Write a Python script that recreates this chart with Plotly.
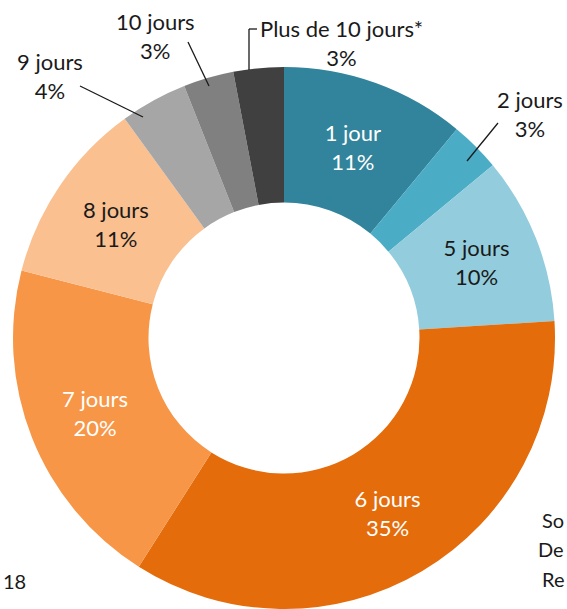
import plotly.graph_objects as go

labels = ["1 jour", "2 jours", "5 jours", "6 jours", "7 jours", "8 jours",
          "9 jours", "10 jours", "Plus de 10 jours*"]
values = [11, 3, 10, 35, 20, 11, 4, 3, 3]
colors = ["#31849B", "#4BACC6", "#93CDDD", "#E46C0A", "#F79646", "#FAC090",
          "#A6A6A6", "#808080", "#404040"]
inside = [True, False, True, True, True, True, False, False, False]
text_colors = ["white", "black", "#1a1a1a", "white", "white", "#1a1a1a",
               "black", "black", "black"]

W, H = 567, 609
CX, CY, R = 284, 338, 271
FONT = "Lato"
FS = 22


def px(x, y):
    return x / W, 1 - y / H


texts = [f"{l}<br>{v}%" for l, v in zip(labels, values)]

x0, y1 = px(CX - R, CY - R)
x1, y0 = px(CX + R, CY + R)
fig = go.Figure(go.Pie(
    labels=labels, values=values, sort=False, direction="clockwise", rotation=0,
    hole=0.5,
    marker=dict(colors=colors, line=dict(width=0)),
    text=texts, texttemplate="%{text}",
    textposition=["inside" if i else "none" for i in inside],
    insidetextorientation="horizontal",
    insidetextfont=dict(color=text_colors, family=FONT, size=FS),
    domain=dict(x=[x0, x1], y=[max(0, y0), y1]),
    showlegend=False, hoverinfo="label+percent",
))

# outside labels (label text centre positions in pixels)
outside = {
    "2 jours": (530, 114),
    "9 jours": (50, 76),
    "10 jours": (155, 36),
    "Plus de 10 jours*": (341, 43),
}
annotations = []
for lab, (x, y) in outside.items():
    v = values[labels.index(lab)]
    ax, ay = px(x, y)
    annotations.append(dict(x=ax, y=ay, xref="paper", yref="paper", showarrow=False,
                            xanchor="center", yanchor="middle",
                            text=f"{lab}<br>{v}%", align="center",
                            font=dict(family=FONT, size=FS, color="#1a1a1a")))

# cropped surrounding text (partially visible in the reference)
for t, (x, y) in {"So": (566, 520), "De": (566, 549), "Re": (566, 579)}.items():
    ax, ay = px(x, y)
    annotations.append(dict(x=ax, y=ay, xref="paper", yref="paper", showarrow=False,
                            xanchor="right", yanchor="middle", text=t,
                            font=dict(family=FONT, size=FS - 2, color="#1a1a1a")))
ax, ay = px(1, 581)
annotations.append(dict(x=ax, y=ay, xref="paper", yref="paper", showarrow=False,
                        xanchor="left", yanchor="middle", text="18",
                        font=dict(family=FONT, size=FS - 2, color="#1a1a1a")))

# leader lines
lines = [
    [(498, 123), (467, 161)],
    [(80, 86), (143, 117)],
    [(188, 42), (209, 86)],
    [(249, 70), (249, 29), (257, 29)],
]
shapes = []
for pts in lines:
    for (xa, ya), (xb, yb) in zip(pts[:-1], pts[1:]):
        a0, b0 = px(xa, ya)
        a1, b1 = px(xb, yb)
        shapes.append(dict(type="line", xref="paper", yref="paper", x0=a0, y0=b0,
                           x1=a1, y1=b1, line=dict(color="#1a1a1a", width=1.3)))

fig.update_layout(width=W, height=H, margin=dict(l=0, r=0, t=0, b=0),
                  paper_bgcolor="white", plot_bgcolor="white",
                  annotations=annotations, shapes=shapes,
                  font=dict(family=FONT, size=FS))
fig.write_html("out.html", config={"displayModeBar": False},
               post_script="document.body.style.margin='0';"
                           "document.body.style.overflow='hidden';")
